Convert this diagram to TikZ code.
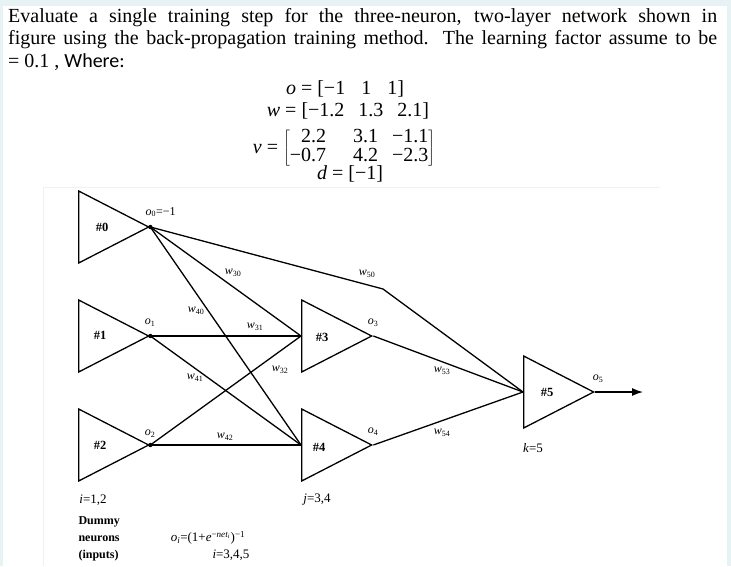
\documentclass[tikz,border=0pt]{standalone}
\usepackage{fontspec}
\setmainfont{Liberation Serif}
\newfontfamily\calfont{Carlito}
\usetikzlibrary{shapes.geometric,arrows.meta}
\definecolor{pagecyan}{HTML}{E6F2F4}

\begin{document}
\begin{tikzpicture}
[
    x=1pt, y=-1pt,
    neuron/.style={draw, line width=1.3pt, isosceles triangle, isosceles triangle stretches,
        minimum width=72pt, minimum height=70pt, inner sep=0pt, anchor=lower side},
    link/.style={line width=1.3pt},
    tag/.style={font=\fontsize{12.5}{12.5}\selectfont\bfseries},
    wlabel/.style={font=\fontsize{12}{12}\selectfont},
    note/.style={font=\fontsize{13}{13}\selectfont},
    dummy/.style={anchor=west, font=\fontsize{12}{12}\selectfont\bfseries},
    bigtext/.style={font=\fontsize{20}{22.5}\selectfont, inner sep=0pt}
]
    \useasboundingbox (0,0) rectangle (731,566);
    \fill[pagecyan] (0,0) rectangle (731,566);
    \fill[white] (3,6) rectangle (727,566);
    \draw[gray!12] (43,566) -- (43,187) -- (660,187);

    \node[bigtext, anchor=north west, text width=709pt, align=justify] (question) at (8,8)
        {Evaluate a single training step for the three-neuron, two-layer network shown in\linebreak
         figure using the back-propagation training method. The learning factor assume to be\linebreak
         = 0.1 , {\calfont Where:}};

    \node[bigtext] (ovec) at (345,89) {\textit{o} = [−1\hspace{16pt}1\hspace{16pt}1]};
    \node[bigtext] (wvec) at (348,111) {\textit{w} = [−1.2\hspace{14pt}1.3\hspace{14pt}2.1]};
    \node[bigtext] (vmat) at (344,148) {\textit{v} = $\left[\renewcommand{\arraystretch}{0.76}\begin{tabular}{@{}r@{\hspace{27pt}}r@{\hspace{14pt}}r@{}}2.2 & 3.1 & −1.1\\ −0.7 & 4.2 & −2.3\end{tabular}\right]$};
    \node[bigtext] (dvec) at (350,174) {\textit{d} = [−1]};

    \node[neuron] (n0) at (78,227) {};
    \node[neuron] (n1) at (78,336) {};
    \node[neuron] (n2) at (78,445) {};
    \node[neuron] (n3) at (301,336) {};
    \node[neuron] (n4) at (301,445) {};
    \node[neuron] (n5) at (523,392) {};
    \coordinate (bend) at (383,289);
    \coordinate (out) at (643,392);

    \node[tag] (t0) at (102,227) {\#0};
    \node[tag] (t1) at (100,335) {\#1};
    \node[tag] (t2) at (100,445) {\#2};
    \node[tag] (t3) at (322,337) {\#3};
    \node[tag] (t4) at (319,447) {\#4};
    \node[tag] (t5) at (547,392) {\#5};

    \draw[link] (n0.apex) -- (n3.lower side);
    \draw[link] (n0.apex) -- (n4.lower side);
    \draw[link] (n0.apex) -- (bend) -- (n5.lower side);
    \draw[link] (n1.apex) -- (n3.lower side);
    \draw[link] (n1.apex) -- (n4.lower side);
    \draw[link] (n2.apex) -- (n3.lower side);
    \draw[link] (n2.apex) -- (n4.lower side);
    \draw[link] (n3.apex) -- (n5.lower side);
    \draw[link] (n4.apex) -- (n5.lower side);
    \draw[link, -{Latex[length=11pt, width=8pt]}] (n5.apex) -- (out);
    \foreach \n in {n0,n1,n2}
        \fill (\n.apex) circle (2.2pt);

    \node[wlabel, anchor=west] (o0) at (142,212) {\textit{o}\textsubscript{0}=−1};
    \node[wlabel] (o1) at (150,323) {\textit{o}\textsubscript{1}};
    \node[wlabel] (o2) at (150,434) {\textit{o}\textsubscript{2}};
    \node[wlabel] (o3) at (373,323) {\textit{o}\textsubscript{3}};
    \node[wlabel] (o4) at (373,432) {\textit{o}\textsubscript{4}};
    \node[wlabel] (o5) at (598,379) {\textit{o}\textsubscript{5}};
    \node[wlabel] (w30) at (233,273) {\textit{w}\textsubscript{30}};
    \node[wlabel] (w40) at (196,311) {\textit{w}\textsubscript{40}};
    \node[wlabel] (w31) at (255,327) {\textit{w}\textsubscript{31}};
    \node[wlabel] (w41) at (195,378) {\textit{w}\textsubscript{41}};
    \node[wlabel] (w32) at (280,370) {\textit{w}\textsubscript{32}};
    \node[wlabel] (w42) at (225,437) {\textit{w}\textsubscript{42}};
    \node[wlabel] (w50) at (367,274) {\textit{w}\textsubscript{50}};
    \node[wlabel] (w53) at (442,371) {\textit{w}\textsubscript{53}};
    \node[wlabel] (w54) at (442,433) {\textit{w}\textsubscript{54}};

    \node[note] (klab) at (533,448) {\textit{k}=5};
    \node[note] (ilab) at (93,500) {\textit{i}=1,2};
    \node[note] (jlab) at (317,500) {\textit{j}=3,4};
    \node[dummy] (dummyn) at (75,522) {Dummy};
    \node[dummy] (neurons) at (75,539) {neurons};
    \node[dummy] (inputs) at (75,556) {(inputs)};
    \node[note] (sigm) at (208,538) {\textit{o}\textsubscript{\textit{i}}=(1+\textit{e}\textsuperscript{−\textit{net}\textsubscript{\textit{i}}})\textsuperscript{−1}};
    \node[note, anchor=east] (irange) at (253,555) {\textit{i}=3,4,5};
\end{tikzpicture}
\end{document}
